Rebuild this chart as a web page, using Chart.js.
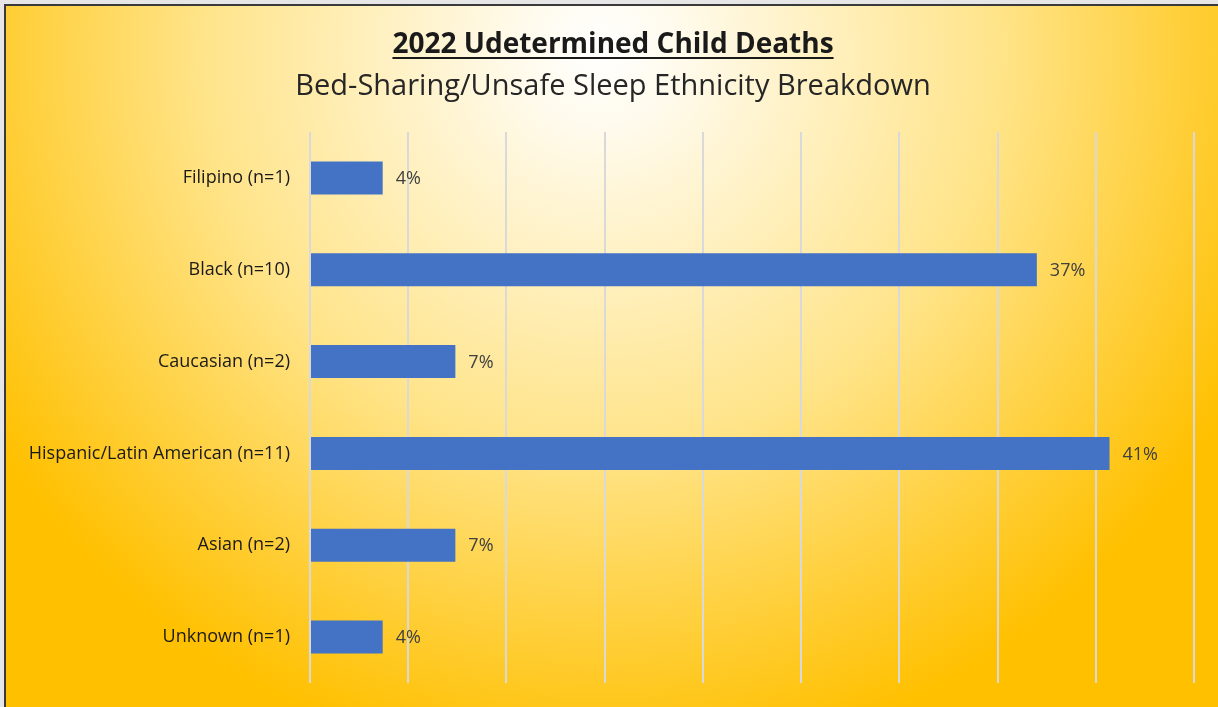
<!DOCTYPE html>
<html>
<head>
<meta charset="utf-8">
<script src="https://cdn.jsdelivr.net/npm/chart.js"></script>
<style>
  html, body { margin: 0; padding: 0; background: #ececec; }
  #wrap { width: 1218px; height: 707px; position: relative; }
</style>
</head>
<body>
<div id="wrap"><canvas id="myChart" width="1218" height="707"></canvas></div>
<script>
// 2022 undetermined child deaths, bed-sharing / unsafe sleep by ethnicity
const categories = ['Filipino (n=1)', 'Black (n=10)', 'Caucasian (n=2)', 'Hispanic/Latin American (n=11)', 'Asian (n=2)', 'Unknown (n=1)'];
const percentValues = [3.7, 37.0, 7.4, 40.7, 7.4, 3.7];
const axisMax = 45;
const axisStep = 5;

const titleText = '2022 Udetermined Child Deaths';
const subtitleText = 'Bed-Sharing/Unsafe Sleep Ethnicity Breakdown';
const fontFamily = '"Open Sans", "Noto Sans", sans-serif';

// background, frame and underlined title
const backdrop = {
  id: 'backdrop',
  beforeDraw(chart) {
    const ctx = chart.ctx;
    const w = chart.width, h = chart.height;
    ctx.save();
    ctx.fillStyle = '#e6e6e6';
    ctx.fillRect(0, 0, w, h);
    const g = ctx.createRadialGradient(600, 50, 0, 600, 50, 720);
    g.addColorStop(0, '#ffffff');
    g.addColorStop(0.12, '#fffaea');
    g.addColorStop(0.55, '#ffe48a');
    g.addColorStop(1, '#ffc000');
    ctx.fillStyle = g;
    ctx.fillRect(6, 6, w - 6, h - 6);
    ctx.strokeStyle = '#3a3a3a';
    ctx.lineWidth = 2;
    ctx.beginPath();
    ctx.moveTo(5, h);
    ctx.lineTo(5, 5);
    ctx.lineTo(w, 5);
    ctx.stroke();

    // titles
    ctx.fillStyle = '#1a1a1a';
    ctx.textAlign = 'center';
    ctx.textBaseline = 'alphabetic';
    ctx.font = 'bold 28px ' + fontFamily;
    ctx.fillText(titleText, 613, 53);
    const tw = ctx.measureText(titleText).width;
    ctx.fillRect(613 - tw / 2, 57, tw, 2);
    ctx.font = '29px ' + fontFamily;
    ctx.fillStyle = '#262626';
    ctx.fillText(subtitleText, 613, 95);
    ctx.restore();
  }
};

// percent labels right of bars
const barLabels = {
  id: 'barLabels',
  afterDatasetsDraw(chart) {
    const ctx = chart.ctx;
    const meta = chart.getDatasetMeta(0);
    ctx.save();
    ctx.fillStyle = '#404040';
    ctx.font = '18px ' + fontFamily;
    ctx.textAlign = 'left';
    ctx.textBaseline = 'middle';
    meta.data.forEach((bar, i) => {
      ctx.fillText(Math.round(percentValues[i]) + '%', bar.x + 13, bar.y + 1);
    });
    ctx.restore();
  }
};

const data = {
  labels: categories,
  datasets: [{
    data: percentValues,
    backgroundColor: '#4472c4',
    borderWidth: 0,
    barPercentage: 0.36,
    categoryPercentage: 1
  }]
};

const config = {
  type: 'bar',
  data,
  options: {
    indexAxis: 'y',
    responsive: false,
    animation: false,
    layout: { padding: { top: 132, right: 24, bottom: 24, left: 0 } },
    plugins: {
      legend: { display: false },
      tooltip: { enabled: false }
    },
    scales: {
      x: {
        min: 0,
        max: axisMax,
        ticks: { display: false, stepSize: axisStep },
        grid: { color: '#d9d9d9', lineWidth: 2, drawTicks: false },
        border: { display: false }
      },
      y: {
        afterFit(scale) {
          scale.width = 310;
          scale.paddingTop = 0;
          scale.paddingBottom = 0;
        },
        ticks: { color: '#1a1a1a', padding: 20, font: { family: fontFamily, size: 18 } },
        grid: { display: false, drawTicks: false },
        border: { display: false }
      }
    }
  },
  plugins: [backdrop, barLabels]
};

const myChart = new Chart(document.getElementById('myChart'), config);
</script>
</body>
</html>
